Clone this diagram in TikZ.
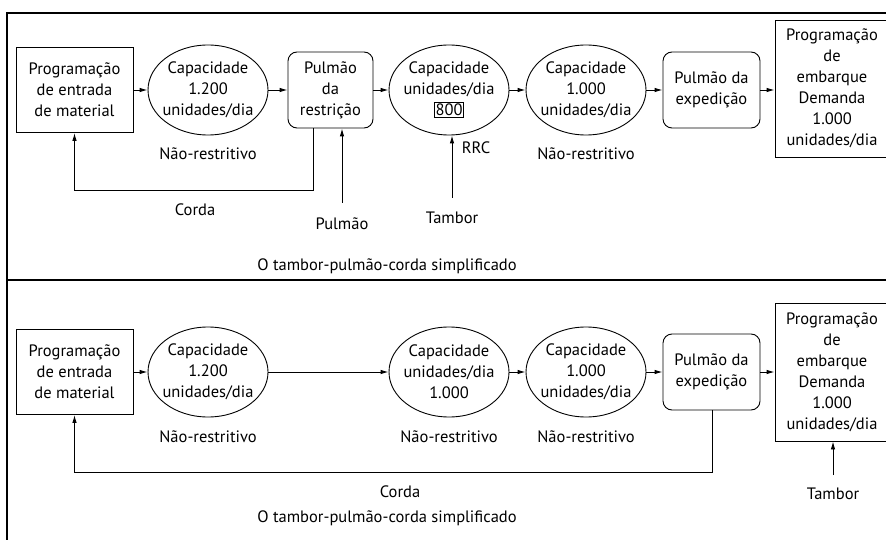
\documentclass[tikz,border=0pt]{standalone}
\usepackage{fontspec}
\setmainfont{PT Sans}
\usetikzlibrary{shapes.geometric,arrows.meta}

\tikzset{
	caixa/.style={draw, rectangle, align=center, inner sep=0pt},
	pulmao/.style={draw, rectangle, rounded corners=9pt, align=center, inner sep=0pt, minimum height=76pt},
	capac/.style={draw, ellipse, align=center, inner sep=-8pt, minimum width=120pt, minimum height=90pt},
	rotulo/.style={align=center, inner sep=1pt},
	moldura/.style={line width=1.4pt},
}
\setlength{\fboxsep}{1pt}
\setlength{\fboxrule}{0.7pt}

\begin{document}
\begin{tikzpicture}[x=1pt, y=-1pt, line width=0.9pt, font=\fontsize{16.5}{21}\selectfont, >={Latex[length=8pt,width=4.5pt]}]
		\useasboundingbox (0,0) rectangle (886,540);
		\clip (0,0) rectangle (886,540);

		% moldura
		\draw [moldura] (886,13) -- (7,13) -- (7,540);
		\draw [moldura] (7,280) -- (886,280);

		% painel superior
		\node [caixa, minimum width=117pt, minimum height=85pt] (prog1) at (74.5,90) {Programação\\de entrada\\de material};
		\node [capac] (cap1) at (208,90) {Capacidade\\1.200\\unidades/dia};
		\node [pulmao, minimum width=85pt] (pulr) at (330.5,90) {Pulmão\\da\\restrição};
		\node [capac] (rrc) at (449,90) {Capacidade\\unidades/dia\\\fbox{800}};
		\node [capac] (cap3) at (586,90) {Capacidade\\1.000\\unidades/dia};
		\node [pulmao, minimum width=97pt] (pule1) at (711.5,90) {Pulmão da\\expedição};
		\node [caixa, minimum width=114pt, minimum height=137pt] (emb1) at (832,88.5) {Programação\\de\\embarque\\Demanda\\1.000\\unidades/dia};

		\draw [->] (prog1) -- (cap1);
		\draw [->] (cap1) -- (pulr);
		\draw [->] (pulr) -- (rrc);
		\draw [->] (rrc) -- (cap3);
		\draw [->] (cap3) -- (pule1);
		\draw [->] (pule1.east) -- (pule1.east -| emb1.west);

		\node [rotulo] (nr1) at (208,154) {Não-restritivo};
		\node [rotulo] (nr3) at (586,154) {Não-restritivo};
		\node [rotulo] (lrrc) at (476,148) {RRC};
		\node [rotulo] (corda1) at (195,210) {Corda};
		\node [rotulo] (lpulmao) at (342,224) {Pulmão};
		\node [rotulo] (tambor1) at (452,218) {Tambor};
		\node [rotulo] (titulo1) at (387,266) {O tambor-pulmão-corda simplificado};

		\coordinate (c1) at (313,190);
		\coordinate (p1) at (342,203);
		\coordinate (t1) at (452,198);
		\draw [->] (pulr.south -| c1) -- (c1) -| (prog1.south);
		\draw [->] (p1) -- (p1 |- pulr.south);
		\draw [->] (t1) -- (t1 |- rrc.south);

		% painel inferior
		\node [caixa, minimum width=117pt, minimum height=85pt] (prog2) at (74.5,372) {Programação\\de entrada\\de material};
		\node [capac] (cap21) at (208,372) {Capacidade\\1.200\\unidades/dia};
		\node [capac] (cap22) at (449,372) {Capacidade\\unidades/dia\\1.000};
		\node [capac] (cap23) at (586,372) {Capacidade\\1.000\\unidades/dia};
		\node [pulmao, minimum width=97pt] (pule2) at (711.5,372) {Pulmão da\\expedição};
		\node [caixa, minimum width=114pt, minimum height=138pt] (emb2) at (832,372) {Programação\\de\\embarque\\Demanda\\1.000\\unidades/dia};

		\draw [->] (prog2) -- (cap21);
		\draw [->] (cap21) -- (cap22);
		\draw [->] (cap22) -- (cap23);
		\draw [->] (cap23) -- (pule2);
		\draw [->] (pule2) -- (emb2);

		\node [rotulo] (nr21) at (208,437) {Não-restritivo};
		\node [rotulo] (nr22) at (449,437) {Não-restritivo};
		\node [rotulo] (nr23) at (586,437) {Não-restritivo};
		\node [rotulo] (corda2) at (400,492) {Corda};
		\node [rotulo] (tambor2) at (833,494) {Tambor};
		\node [rotulo] (titulo2) at (387,518) {O tambor-pulmão-corda simplificado};

		\coordinate (c2) at (712,472);
		\coordinate (t2) at (833,475);
		\draw [->] (pule2.south -| c2) -- (c2) -| (prog2.south);
		\draw [->] (t2) -- (t2 |- emb2.south);
	\end{tikzpicture}
\end{document}
